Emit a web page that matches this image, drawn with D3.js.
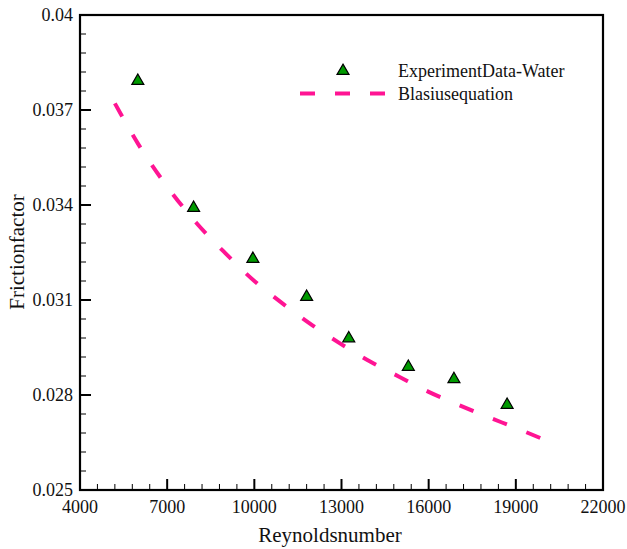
<!DOCTYPE html>
<html>
<head>
<meta charset="utf-8">
<title>Friction factor vs Reynolds number</title>
<script src="https://cdn.jsdelivr.net/npm/d3@7"></script>
<style>
  body { margin: 0; background: #fff; }
  svg text { font-family: "Liberation Serif", "DejaVu Serif", serif; fill: #111; }
</style>
</head>
<body>
<div id="chart"></div>
<script>
  // measured points (triangles)
  var expRe = [5990, 7910, 9950, 11800, 13250, 15300, 16870, 18700];
  var expF  = [0.03795, 0.03394, 0.03233, 0.03113, 0.02982, 0.02892, 0.02853, 0.02772];

  // dashed curve
  var blasRe = [5200, 6000, 7000, 8000, 9000, 10000, 11000, 12000, 13000, 14000, 15000, 16000, 17000, 18000, 19000, 20000];
  var blasF  = [0.03721, 0.03593, 0.03458, 0.03344, 0.03248, 0.03160, 0.03087, 0.03020, 0.02960, 0.02905, 0.02857, 0.02810, 0.02770, 0.02732, 0.02696, 0.02658];

  var xTicks = [4000, 7000, 10000, 13000, 16000, 19000, 22000];
  var yTicks = [0.025, 0.028, 0.031, 0.034, 0.037, 0.04];
  var legendLabels = ["ExperimentData-Water", "Blasiusequation"];

  var width = 627, height = 549;
  var margin = {left: 80, top: 15, right: 24, bottom: 59};

  var svg = d3.select("#chart").append("svg")
      .attr("width", width)
      .attr("height", height);

  var x = d3.scaleLinear().domain([4000, 22000]).range([margin.left, width - margin.right]);
  var y = d3.scaleLinear().domain([0.025, 0.04]).range([height - margin.bottom, margin.top]);

  var pink = "#ff1493", green = "#009a00";

  // minor ticks
  var xMinor = d3.range(4000, 22001, 600);
  var yMinor = d3.range(0, 26).map(function(i) { return 0.025 + i * 0.0006; });

  svg.append("g").selectAll("line").data(xMinor).enter().append("line")
      .attr("x1", function(d) { return x(d); }).attr("x2", function(d) { return x(d); })
      .attr("y1", y(0.025)).attr("y2", function(d) { return y(0.025) - (d % 3000 === 1000 ? 11 : 6); })
      .attr("stroke", "#000").attr("stroke-width", function(d) { return d % 3000 === 1000 ? 2 : 1; });

  svg.append("g").selectAll("line").data(yMinor).enter().append("line")
      .attr("y1", function(d) { return y(d); }).attr("y2", function(d) { return y(d); })
      .attr("x1", x(4000)).attr("x2", function(d, i) { return x(4000) + (i % 5 === 0 ? 11 : 6); })
      .attr("stroke", "#000").attr("stroke-width", function(d, i) { return i % 5 === 0 ? 2 : 1; });

  // frame
  svg.append("rect")
      .attr("x", x(4000)).attr("y", y(0.04))
      .attr("width", x(22000) - x(4000)).attr("height", y(0.025) - y(0.04))
      .attr("fill", "none").attr("stroke", "#000").attr("stroke-width", 2.2);

  // tick labels
  svg.append("g").selectAll("text").data(xTicks).enter().append("text")
      .attr("x", function(d) { return x(d); })
      .attr("y", 513)
      .attr("text-anchor", "middle")
      .attr("font-size", 18)
      .text(function(d) { return d; });

  svg.append("g").selectAll("text").data(yTicks).enter().append("text")
      .attr("x", 73)
      .attr("y", function(d) { return y(d) + 6; })
      .attr("text-anchor", "end")
      .attr("font-size", 18)
      .text(function(d) { return d3.format(".3~f")(d); });

  // axis titles
  svg.append("text")
      .attr("x", 330).attr("y", 542)
      .attr("text-anchor", "middle")
      .attr("font-size", 21)
      .text("Reynoldsnumber");

  svg.append("text")
      .attr("transform", "translate(24,252) rotate(-90)")
      .attr("text-anchor", "middle")
      .attr("font-size", 21)
      .text("Frictionfactor");

  // dashed curve
  var blas = blasRe.map(function(d, i) { return [d, blasF[i]]; });
  var line = d3.line()
      .x(function(d) { return x(d[0]); })
      .y(function(d) { return y(d[1]); })
      .curve(d3.curveMonotoneX);

  svg.append("path")
      .datum(blas)
      .attr("d", line)
      .attr("fill", "none")
      .attr("stroke", pink)
      .attr("stroke-width", 4)
      .attr("stroke-dasharray", "15,21");

  // triangles
  var tri = d3.symbol().type(d3.symbolTriangle).size(62);
  svg.append("g").selectAll("path").data(expRe).enter().append("path")
      .attr("d", tri)
      .attr("transform", function(d, i) { return "translate(" + x(d) + "," + (y(expF[i]) + 1) + ")"; })
      .attr("fill", green)
      .attr("stroke", "#000")
      .attr("stroke-width", 1.2);

  // legend
  var lg = svg.append("g");
  lg.append("path")
      .attr("d", tri)
      .attr("transform", "translate(343,71)")
      .attr("fill", green).attr("stroke", "#000").attr("stroke-width", 1.2);
  lg.append("line")
      .attr("x1", 300).attr("x2", 385).attr("y1", 93.5).attr("y2", 93.5)
      .attr("stroke", pink).attr("stroke-width", 4)
      .attr("stroke-dasharray", "15,20");
  lg.selectAll("text").data(legendLabels).enter().append("text")
      .attr("x", 398)
      .attr("y", function(d, i) { return 77 + i * 23; })
      .attr("font-size", 18)
      .text(function(d) { return d; });
</script>
</body>
</html>
